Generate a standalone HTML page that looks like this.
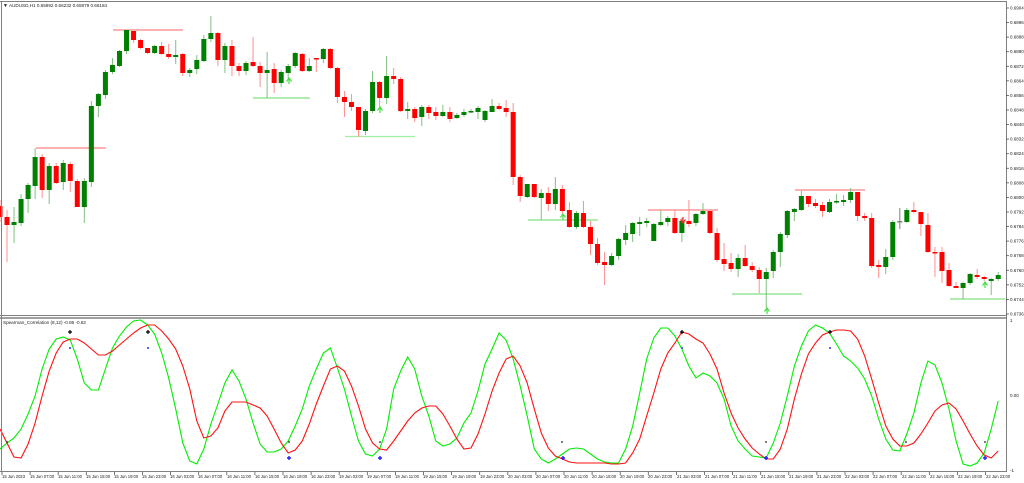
<!DOCTYPE html>
<html><head><meta charset="utf-8"><style>
html,body{margin:0;padding:0;background:#fff;}
svg{display:block;}
text{font-family:"Liberation Sans",sans-serif;fill:#222;}
</style></head><body>
<svg id="s" width="1024" height="483" viewBox="0 0 1024 483" xmlns="http://www.w3.org/2000/svg">
<rect x="0" y="0" width="1024" height="483" fill="#fff"/>
<g id="lv"></g>
<g id="cd"></g>
<g id="ind"></g>
<!-- frames -->
<g fill="none" stroke="#808080" stroke-width="1">
<line x1="0" y1="1.5" x2="1007" y2="1.5"/>
<line x1="1.5" y1="1" x2="1.5" y2="472"/>
<line x1="1006.5" y1="1" x2="1006.5" y2="472"/>
<line x1="0" y1="315.5" x2="1007" y2="315.5"/>
<line x1="0" y1="318" x2="1007" y2="318" stroke-width="1.5"/>
<line x1="0" y1="471.5" x2="1007" y2="471.5"/>
</g>
<g id="ticks" stroke="#555" stroke-width="0.8"></g>
<text x="3" y="7" font-size="5">▼</text>
<text x="9" y="7" font-size="4.6">AUDUSD,H1  0.65992 0.66232 0.65979 0.66184</text>
<text x="3" y="324" font-size="4.6">Spearman_Correlation (8,12) -0.86 -0.82</text>
<g font-size="4.5">
<text x="1010" y="9.5">0.69045</text><text x="1010" y="24">0.68965</text><text x="1010" y="38.6">0.68885</text><text x="1010" y="53.2">0.68805</text><text x="1010" y="67.8">0.68725</text><text x="1010" y="82.4">0.68645</text><text x="1010" y="97">0.68565</text><text x="1010" y="111.5">0.68485</text><text x="1010" y="126">0.68405</text><text x="1010" y="140.6">0.68325</text><text x="1010" y="155.2">0.68245</text><text x="1010" y="169.8">0.68165</text><text x="1010" y="184.4">0.68085</text><text x="1010" y="199">0.68005</text><text x="1010" y="213.5">0.67925</text><text x="1010" y="228">0.67845</text><text x="1010" y="242.6">0.67765</text><text x="1010" y="257.2">0.67685</text><text x="1010" y="271.8">0.67605</text><text x="1010" y="286.4">0.67525</text><text x="1010" y="301">0.67445</text><text x="1010" y="315.5">0.67365</text>
<text x="1010" y="322">1</text><text x="1010" y="397">0.00</text><text x="1010" y="472">-1</text>
</g>
<g font-size="4.2">
<text x="2" y="478">15 Jun 2023</text><text x="30" y="478">15 Jun 07:00</text><text x="58" y="478">15 Jun 11:00</text><text x="86" y="478">15 Jun 15:00</text><text x="114" y="478">15 Jun 19:00</text><text x="142" y="478">15 Jun 23:00</text><text x="170" y="478">16 Jun 03:00</text><text x="198" y="478">16 Jun 07:00</text><text x="227" y="478">16 Jun 11:00</text><text x="255" y="478">16 Jun 15:00</text><text x="283" y="478">16 Jun 19:00</text><text x="311" y="478">16 Jun 23:00</text><text x="339" y="478">19 Jun 03:00</text><text x="367" y="478">19 Jun 07:00</text><text x="395" y="478">19 Jun 11:00</text><text x="423" y="478">19 Jun 15:00</text><text x="452" y="478">19 Jun 19:00</text><text x="480" y="478">19 Jun 23:00</text><text x="508" y="478">20 Jun 03:00</text><text x="536" y="478">20 Jun 07:00</text><text x="564" y="478">20 Jun 11:00</text><text x="592" y="478">20 Jun 15:00</text><text x="620" y="478">20 Jun 19:00</text><text x="648" y="478">20 Jun 23:00</text><text x="677" y="478">21 Jun 03:00</text><text x="705" y="478">21 Jun 07:00</text><text x="733" y="478">21 Jun 11:00</text><text x="761" y="478">21 Jun 15:00</text><text x="789" y="478">21 Jun 19:00</text><text x="817" y="478">21 Jun 23:00</text><text x="845" y="478">22 Jun 03:00</text><text x="873" y="478">22 Jun 07:00</text><text x="902" y="478">22 Jun 11:00</text><text x="930" y="478">22 Jun 15:00</text><text x="958" y="478">22 Jun 19:00</text><text x="986" y="478">22 Jun 23:00</text>
</g>
</svg>
<script>
var NS="http://www.w3.org/2000/svg";
function el(p,t,a){var e=document.createElementNS(NS,t);for(var k in a)e.setAttribute(k,a[k]);document.getElementById(p).appendChild(e);return e;}
var C=[[206,217,200,222],[217,225,210,262],[225,222,207,243],[223,199,194,226],[199,185,183,213],[186,157,148,199],[157,190,154,198],[190,166,163,204],[166,183,163,184],[182,163,160,190],[164,181,162,192],[181,207,179,207],[207,181,178,223],[182,106,101,187],[106,94,93,117],[95,72,70,99],[72,65,58,74],[66,51,50,67],[51,30,30,54],[31,40,30,43],[40,48,39,49],[48,53,48,54],[53,46,45,54],[46,54,42,55],[54,57,44,59],[57,55,40,64],[54,73,53,76],[73,70,68,77],[69,60,55,74],[61,39,35,62],[39,33,16,42],[33,60,32,66],[60,46,43,73],[46,66,40,76],[66,71,63,76],[71,63,61,75],[62,66,37,67],[66,73,62,87],[73,70,52,98],[69,83,63,93],[83,72,70,87],[73,66,64,78],[66,53,52,68],[54,71,53,72],[71,66,58,72],[58,59,58,72],[59,49,48,63],[49,68,48,69],[68,97,67,103],[97,102,91,117],[102,107,94,111],[107,130,107,137],[131,111,109,135],[111,82,71,113],[82,98,81,107],[98,76,56,104],[76,79,68,84],[79,111,77,112],[111,109,102,119],[109,118,107,122],[117,107,105,126],[107,113,105,119],[112,116,107,120],[116,112,105,117],[112,119,107,122],[118,115,113,119],[115,112,109,117],[112,111,109,113],[112,108,106,119],[120,111,110,122],[112,106,99,112],[106,109,103,110],[108,112,100,117],[112,177,103,185],[177,196,175,202],[197,184,184,198],[184,197,184,198],[198,193,189,220],[193,204,187,211],[204,189,177,210],[189,211,185,214],[210,227,202,228],[227,213,211,229],[213,227,201,228],[227,244,221,255],[244,263,238,265],[262,265,252,285],[265,256,253,266],[256,239,238,260],[240,233,225,245],[234,223,222,242],[224,222,217,236],[223,221,218,227],[241,224,223,241],[225,222,210,226],[222,218,216,226],[218,233,210,234],[233,221,218,242],[221,224,200,227],[223,214,213,226],[214,211,203,215],[211,233,210,234],[233,260,228,262],[259,264,243,271],[263,269,253,272],[269,258,254,277],[258,266,245,267],[266,270,262,272],[270,279,267,293],[279,272,268,308],[271,252,250,278],[252,234,232,267],[235,211,210,238],[212,209,208,221],[210,196,191,211],[196,204,196,207],[203,206,199,208],[205,211,202,217],[212,202,199,213],[202,201,194,204],[202,200,195,206],[200,192,188,203],[192,216,192,221],[216,218,213,221],[218,266,213,268],[265,267,260,278],[267,257,249,274],[257,222,220,260],[221,222,208,229],[222,210,208,223],[210,212,202,213],[212,224,212,236],[225,252,213,253],[252,253,247,277],[252,271,247,283],[270,286,263,287],[286,288,282,288],[288,283,282,299],[283,274,273,285],[275,277,269,279],[277,279,276,281],[281,279,278,295],[279,275,272,281]];
function X(k){return 7+7.03*k;}
// levels
var L=[[36,106,148,"#ff8080"],[113,183,30,"#ff8080"],[253,310,98,"#80e080"],[345,415,136.5,"#a0f0a0"],[528,598,220,"#80e080"],[648,718,210,"#ff8080"],[732,802,294,"#80e080"],[795,865,190,"#ff8080"],[950,1005,299,"#80e080"]];
L.forEach(function(l){el("lv","line",{x1:l[0],x2:l[1],y1:l[2],y2:l[2],stroke:l[3],"stroke-width":1.2});});
C.forEach(function(c,i){var k=i-1,x=X(k);var o=c[0],cl=c[1],h=c[2],l=c[3];
var gray=(k==127);var up=cl<o;var col=gray?"#808080":(up?"#008000":"#ff0000");var wc=gray?"#808080":(up?"#80c080":"#ff9090");
el("cd","line",{x1:x,x2:x,y1:h,y2:l,stroke:wc,"stroke-width":1});
var t=Math.min(o,cl),hh=Math.max(Math.abs(o-cl),1.5);
el("cd","rect",{x:x-2.5,y:t,width:5,height:hh,fill:col});});
// arrows
[[289,81,"#40e040",1],[380,110,"#40e040",1],[563,217,"#40e040",1],[985,285,"#40e040",1],[767,311,"#40e040",1],[683,220,"#ff2020",0]].forEach(function(a){
var x=a[0],y=a[1];if(a[3]){el("cd","path",{d:"M"+(x-2.5)+" "+(y+0.5)+"L"+x+" "+(y-3)+"L"+(x+2.5)+" "+(y+0.5)+"M"+x+" "+(y-3)+"V"+(y+3),stroke:a[2],fill:"none","stroke-width":1.2});}
else{el("cd","path",{d:"M"+(x-2.5)+" "+(y-0.5)+"L"+x+" "+(y+3)+"L"+(x+2.5)+" "+(y-0.5)+"M"+x+" "+(y+3)+"V"+(y-3),stroke:a[2],fill:"none","stroke-width":1.2});}});
var G=[449,443,438,429,414,396,369,349,339,337,340,359,383,390,390,369,348,336,327,321,320,325,334,353,378,409,443,461,464,449,424,404,383,370,381,399,423,444,452,452,449,441,426,409,386,369,353,348,
368,389,416,441,454,456,449,429,389,371,357,369,396,416,441,446,444,438,423,413,391,364,349,333,340,359,386,416,449,459,463,459,454,449,448,449,454,459,462,463,463,449,426,393,359,338,328,328,
336,349,366,378,373,376,383,399,426,441,449,456,457,458,443,423,396,366,346,331,325,328,333,344,356,361,368,379,396,419,439,450,451,434,413,383,361,365,383,409,441,464,466,463,453,429,401];
var R=[429,443,457,458,444,423,396,371,353,342,339,339,343,349,355,355,351,345,339,333,328,325,325,331,339,349,366,389,421,438,436,428,411,402,402,402,405,408,416,429,443,453,450,441,424,404,386,369,
366,371,386,406,429,443,449,450,441,431,421,413,408,406,406,414,426,439,449,448,434,414,391,373,359,356,366,383,409,433,448,456,459,462,463,463,463,463,463,464,464,463,453,439,416,393,369,353,
343,332,334,339,343,354,369,393,413,428,439,448,454,459,459,449,429,399,374,354,343,335,332,330,330,331,339,356,379,403,426,439,446,446,443,434,423,411,405,403,409,421,434,446,455,458,451];
function pts(A){return A.map(function(y,i){return Math.max(0,X(i-1)).toFixed(1)+","+y;}).join(" ");}
el("ind","polyline",{points:pts(G),fill:"none",stroke:"#00ee00","stroke-width":1.1});
el("ind","polyline",{points:pts(R),fill:"none",stroke:"#ff1010","stroke-width":1.1});
[[70,332],[148,332],[682,332],[830,332]].forEach(function(p){el("ind","path",{d:"M"+(p[0]-2)+" "+p[1]+"H"+(p[0]+2)+"M"+p[0]+" "+(p[1]-2)+"V"+(p[1]+2),stroke:"#000","stroke-width":1.2});
el("ind","rect",{x:p[0]-1,y:347,width:2,height:2,fill:"#6060ff"});});
[[7,442],[289,442],[380,442],[562,442],[766,442],[906,442],[985,442]].forEach(function(p){el("ind","rect",{x:p[0]-0.8,y:p[1]-0.8,width:1.6,height:1.6,fill:"#333"});});
[[289,458],[380,458],[563,458],[766,458],[985,458]].forEach(function(p){el("ind","path",{d:"M"+(p[0]-2)+" "+p[1]+"H"+(p[0]+2)+"M"+p[0]+" "+(p[1]-2)+"V"+(p[1]+2),stroke:"#2020ff","stroke-width":1.4});});
// ticks
for(var i=0;i<36;i++){var x=2+28.1*i;el("ticks","line",{x1:x,x2:x,y1:472,y2:475});}
for(var j=0;j<22;j++){var y=8+14.57*j;el("ticks","line",{x1:1006,x2:1009,y1:y,y2:y});}
</script>
</body></html>
